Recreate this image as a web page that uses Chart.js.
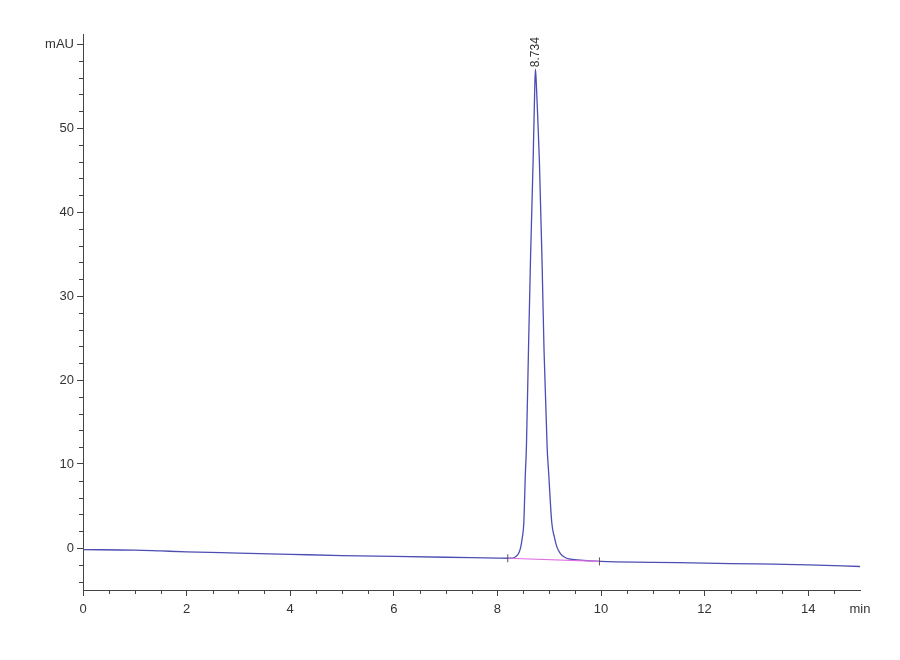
<!DOCTYPE html>
<html>
<head>
<meta charset="utf-8">
<script src="https://cdn.jsdelivr.net/npm/chart.js@4/dist/chart.umd.min.js"></script>
<style>
  html, body { margin: 0; padding: 0; background: #fff; }
  #wrap { width: 900px; height: 660px; }
</style>
</head>
<body>
<div id="wrap"><canvas id="hplc"></canvas></div>
<script>
// retention time (min) and detector signal (mAU)
const timeMin = [0, 1.0, 1.5, 2, 3, 4, 5, 6, 7, 8, 8.2, 8.3, 8.36, 8.42, 8.45, 8.48, 8.51, 8.54, 8.56,
  8.60, 8.64, 8.69, 8.72, 8.734, 8.75, 8.78, 8.81, 8.86, 8.90, 8.96, 8.99, 9.05, 9.10, 9.15, 9.22,
  9.30, 9.38, 9.6, 10, 11, 12, 13, 14, 15];
const signal = [-0.2, -0.25, -0.35, -0.45, -0.6, -0.75, -0.9, -1.0, -1.1, -1.2, -1.22, -1.2, -1.0, -0.5,
  0.1, 1.2, 3.0, 8.9, 12.0, 23.6, 34.6, 46.2, 54.5, 57.0, 55.5, 51.0, 46.2, 34.6, 23.6, 12.0, 8.9, 3.0,
  1.3, 0.1, -0.7, -1.1, -1.3, -1.45, -1.6, -1.7, -1.8, -1.9, -2.0, -2.2];

// integration baseline under the peak
const baseTime = [8.2, 9.97];
const baseSignal = [-1.22, -1.6];

// peak annotation
const peakTime = [8.734];
const peakHeight = [57.0];
const peakLabel = ["8.734"];

// axis ticks
const xTicks = [0, 2, 4, 6, 8, 10, 12, 14, 15];
const yTicks = [0, 10, 20, 30, 40, 50, 60];
const xMinor = [0.5, 1, 1.5, 2.5, 3, 3.5, 4.5, 5, 5.5, 6.5, 7, 7.5, 8.5, 9, 9.5, 10.5, 11, 11.5, 12.5, 13, 13.5, 14.5];
const yMinor = [-4, -2, 2, 4, 6, 8, 12, 14, 16, 18, 22, 24, 26, 28, 32, 34, 36, 38, 42, 44, 46, 48, 52, 54, 56, 58];

const FONT = "'Liberation Sans Narrow', 'Liberation Sans', sans-serif";
const AXIS = "#444";

const zip = (xs, ys) => xs.map((x, i) => ({ x, y: ys[i] }));

/** minor tick marks + rotated peak label */
const extras = {
  id: "extras",
  afterDraw(chart) {
    const { ctx, scales: { x, y } } = chart;
    ctx.save();
    ctx.strokeStyle = AXIS;
    ctx.lineWidth = 1;
    ctx.beginPath();
    // axis runs a little past the top tick, like the instrument plot
    ctx.moveTo(x.left + 0.5, y.top);
    ctx.lineTo(x.left + 0.5, y.top - 10);
    yMinor.forEach(v => {
      const py = Math.round(y.getPixelForValue(v)) + 0.5;
      ctx.moveTo(x.left - 4, py);
      ctx.lineTo(x.left, py);
    });
    xMinor.forEach(v => {
      const px = Math.round(x.getPixelForValue(v)) + 0.5;
      ctx.moveTo(px, y.bottom);
      ctx.lineTo(px, y.bottom + 4);
    });
    ctx.stroke();

    ctx.fillStyle = "#333";
    ctx.font = "12px " + FONT;
    ctx.textAlign = "left";
    ctx.textBaseline = "middle";
    peakTime.forEach((t, i) => {
      const px = x.getPixelForValue(t);
      const py = y.getPixelForValue(peakHeight[i]) - 2;
      ctx.save();
      ctx.translate(px, py);
      ctx.rotate(-Math.PI / 2);
      ctx.fillText(peakLabel[i], 0, 0);
      ctx.restore();
    });
    ctx.restore();
  },
};

new Chart(document.getElementById("hplc"), {
  type: "line",
  data: {
    datasets: [
      {
        label: "baseline",
        data: zip(baseTime, baseSignal),
        borderColor: "#e070e0",
        borderWidth: 1.2,
        pointStyle: "line",
        rotation: 90,
        pointRadius: 4,
        pointBorderColor: "#555",
        pointBorderWidth: 1,
      },
      {
        label: "signal",
        data: zip(timeMin, signal),
        borderColor: "#4d4db4",
        borderWidth: 1.3,
        pointRadius: 0,
        cubicInterpolationMode: "monotone",
      },
    ],
  },
  options: {
    responsive: true,
    maintainAspectRatio: false,
    animation: false,
    devicePixelRatio: 1,
    layout: { padding: { top: 44, right: 40, left: 0, bottom: 0 } },
    plugins: { legend: { display: false }, tooltip: { enabled: false } },
    scales: {
      x: {
        type: "linear",
        min: 0,
        max: 15,
        afterBuildTicks: s => { s.ticks = xTicks.map(v => ({ value: v })); },
        afterFit: s => { s.height = 70; },
        ticks: {
          color: "#333",
          font: { family: FONT, size: 13 },
          padding: 6,
          maxRotation: 0,
          autoSkip: false,
          callback: v => (v === 15 ? "min" : String(v)),
        },
        grid: {
          drawOnChartArea: false,
          tickLength: 6,
          tickColor: c => (c.tick && c.tick.value === 15 ? "rgba(0,0,0,0)" : AXIS),
        },
        border: { color: AXIS, width: 1 },
      },
      y: {
        type: "linear",
        min: -5,
        max: 60,
        afterBuildTicks: s => { s.ticks = yTicks.map(v => ({ value: v })); },
        afterFit: s => { s.width = 83; },
        ticks: {
          color: "#333",
          font: { family: FONT, size: 13 },
          padding: 3,
          autoSkip: false,
          callback: v => (v === 60 ? "mAU" : String(v)),
        },
        grid: { drawOnChartArea: false, tickLength: 6, tickColor: AXIS },
        border: { color: AXIS, width: 1 },
      },
    },
  },
  plugins: [extras],
});
</script>
</body>
</html>
